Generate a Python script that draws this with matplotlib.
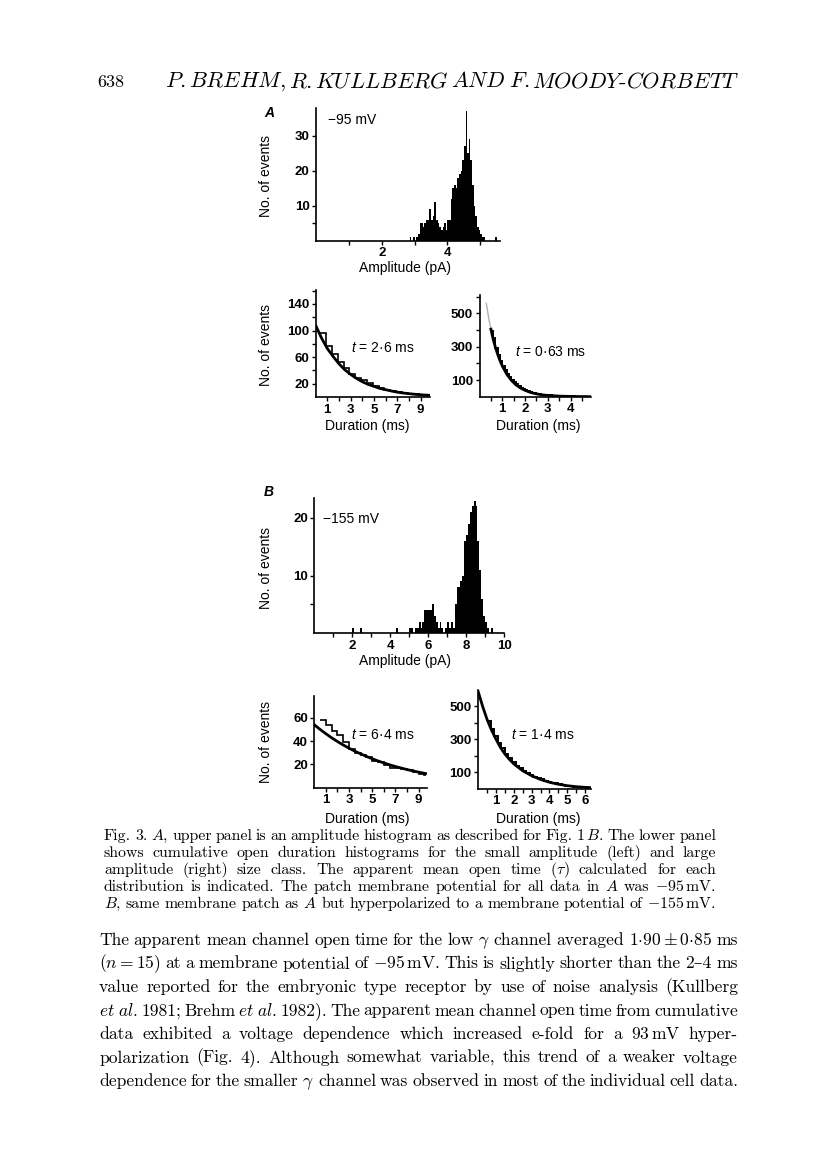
import numpy as np
import matplotlib
matplotlib.use("Agg")
import matplotlib.pyplot as plt

plt.rcParams["font.family"] = ["Liberation Sans", "DejaVu Sans"]
plt.rcParams["mathtext.fontset"] = "cm"
plt.rcParams["mathtext.it"] = "Liberation Sans:italic"
plt.rcParams["mathtext.rm"] = "Liberation Sans"
plt.rcParams["axes.unicode_minus"] = False

W, H = 816, 1175

# amplitude histogram A (-95 mV): bins of 0.05 pA starting at 2.80 pA
amp_a_start = 2.80
amp_a_width = 0.05
amp_a_counts = [0, 1, 0, 1, 0, 1, 2, 5, 5, 4, 5, 6, 6, 9, 6, 7, 11, 6, 5, 4,
                3, 4, 5, 3, 6, 6, 12, 15, 16, 15, 18, 19, 20, 23, 27, 37, 25, 29, 23, 16,
                10, 7, 4, 3, 2, 1, 1, 0, 0, 0, 0, 0, 0, 1]

# amplitude histogram B (-155 mV): 0.1 pA bins, left edges of non-empty bins
amp_b_width = 0.1
amp_b_left = [2.0, 2.4, 4.3, 5.0, 5.1, 5.3, 5.4, 5.5, 5.6, 5.7, 5.8, 5.9, 6.0, 6.1,
              6.2, 6.3, 6.4, 6.5, 6.6, 6.7, 6.9, 7.0, 7.1, 7.2, 7.3, 7.4, 7.5, 7.6,
              7.7, 7.8, 7.9, 8.0, 8.1, 8.2, 8.3, 8.4, 8.5, 8.6, 8.7, 8.8, 8.9, 9.0,
              9.1, 9.3]
amp_b_counts = [1, 1, 1, 1, 1, 1, 1, 2, 1, 2, 4, 4, 4, 4,
                5, 3, 2, 1, 2, 1, 1, 2, 1, 2, 1, 5, 8, 8,
                9, 10, 16, 17, 19, 21, 22, 23, 22, 16, 11, 6, 3, 2,
                1, 1]

# cumulative open-duration histograms (stairs) and fitted curves
dur_al_edges = [0.4, 0.9, 1.4, 1.9, 2.4, 2.9, 3.4, 3.9, 4.4, 4.9, 5.4, 5.9, 6.4,
                6.9, 7.4, 7.9, 8.4, 8.9, 9.4, 9.8]
dur_al_counts = [96, 76, 64, 52, 43, 35, 29, 25, 21, 16, 13, 11, 9, 7, 6, 5, 4, 3, 3]
fit_al_t = [0, 0.5, 1, 1.5, 2, 2.5, 3, 3.5, 4, 4.5, 5, 5.5, 6, 6.5, 7, 7.5, 8, 8.5, 9, 9.5, 9.8]
fit_al_n = [108, 89, 73, 61, 50, 41, 34, 28, 23, 19, 16, 13, 11, 9, 7.3, 6, 5, 4.1, 3.4, 2.8, 2.6]

dur_ar_edges = [0.5, 0.6, 0.7, 0.8, 0.9, 1.0, 1.1, 1.2, 1.3, 1.4, 1.5, 1.6, 1.7, 1.8,
                1.9, 2.0, 2.1, 2.2, 2.3, 2.4, 2.5, 2.6, 2.7, 2.8, 2.9, 3.0, 3.2, 3.4,
                3.6, 3.8, 4.0, 4.2, 4.4, 4.6, 4.85]
dur_ar_counts = [395, 350, 290, 250, 215, 185, 160, 138, 118, 102, 88, 75, 64, 55,
                 47, 40, 34, 29, 25, 21, 18, 15, 13, 11, 9, 8, 6, 4,
                 3, 2, 2, 1, 1, 1]
fit_ar_faint_t = [0.3, 0.4, 0.5]
fit_ar_faint_n = [560, 475, 405]
fit_ar_t = [0.5, 0.6, 0.7, 0.8, 0.9, 1.0, 1.2, 1.4, 1.6, 1.8, 2.0, 2.25, 2.5, 2.75,
            3.0, 3.5, 4.0, 4.5, 4.85]
fit_ar_n = [405, 345, 296, 253, 216, 184, 134, 98, 71, 52, 38, 25, 17, 11,
            8, 3.5, 1.6, 0.7, 0.4]

dur_bl_edges = [0.5, 1.0, 1.5, 2.0, 2.5, 3.0, 3.5, 4.0, 4.5, 5.0, 5.5, 6.0, 6.5,
                7.0, 7.5, 8.0, 8.5, 9.0, 9.5, 9.6]
dur_bl_counts = [58, 54, 49, 45, 39, 33, 30, 28, 26, 23, 22, 19, 17, 17, 16, 15, 13, 12, 11]
fit_bl_t = [0, 0.5, 1, 1.5, 2, 2.5, 3, 3.5, 4, 4.5, 5, 5.5, 6, 6.5, 7, 7.5, 8, 8.5, 9, 9.6]
fit_bl_n = [54, 50, 46.3, 42.8, 39.6, 36.6, 33.9, 31.3, 29, 26.8, 24.8, 22.9, 21.2,
            19.6, 18.1, 16.8, 15.5, 14.4, 13.3, 12.1]

dur_br_edges = [0.5, 0.7, 0.9, 1.1, 1.3, 1.5, 1.7, 1.9, 2.1, 2.3, 2.5, 2.7, 2.9, 3.1,
                3.3, 3.5, 3.7, 3.9, 4.1, 4.3, 4.5, 4.7, 4.9, 5.1, 5.3, 5.5, 5.7, 5.9,
                6.1, 6.3]
dur_br_counts = [410, 360, 320, 280, 245, 210, 185, 160, 140, 122, 107, 95, 83, 72,
                 63, 55, 48, 41, 36, 31, 26, 22, 18, 15, 12, 10, 8, 7, 6]
fit_br_t = [0, 0.25, 0.5, 0.75, 1.0, 1.25, 1.5, 1.75, 2.0, 2.5, 3.0, 3.5, 4.0, 4.5,
            5.0, 5.5, 6.0, 6.3]
fit_br_n = [590, 500, 420, 355, 300, 250, 210, 178, 150, 108, 78, 55, 38, 26,
            17, 11, 7, 5]

header_page = "638"
header_tokens = [r"$\mathit{P}$.", r"$\mathit{BREHM}$,", r"$\mathit{R}$.", r"$\mathit{KULLBERG}$",
                 r"$\mathit{AND}$", r"$\mathit{F}$.", r"$\mathit{MOODY}$-$\mathit{CORBETT}$"]

caption_lines = [
    r"Fig. 3. $\mathit{A}$, upper panel is an amplitude histogram as described for Fig. 1$\,\mathit{B}$. The lower panel",
    "shows cumulative open duration histograms for the small amplitude (left) and large",
    r"amplitude (right) size class. The apparent mean open time ($\tau$) calculated for each",
    r"distribution is indicated. The patch membrane potential for all data in $\mathit{A}$ was $-95\,$mV.",
    r"$\mathit{B}$, same membrane patch as $\mathit{A}$ but hyperpolarized to a membrane potential of $-155\,$mV.",
]

body_lines = [
    r"The apparent mean channel open time for the low $\gamma$ channel averaged $1{\cdot}90\pm0{\cdot}85$ ms",
    r"$(n=15)$ at a membrane potential of $-95\,$mV. This is slightly shorter than the 2–4 ms",
    "value reported for the embryonic type receptor by use of noise analysis (Kullberg",
    r"$\mathit{et}$ $\mathit{al}$. 1981; Brehm $\mathit{et}$ $\mathit{al}$. 1982). The apparent mean channel open time from cumulative",
    r"data exhibited a voltage dependence which increased e-fold for a 93$\,$mV hyper-",
    "polarization (Fig. 4). Although somewhat variable, this trend of a weaker voltage",
    r"dependence for the smaller $\gamma$ channel was observed in most of the individual cell data.",
]

SERIF = ["cmr10", "DejaVu Serif"]

fig = plt.figure(figsize=(W / 100, H / 100), dpi=100)
fig.patch.set_facecolor("white")


def fx(x):
    return x / W


def fy(y):
    return 1 - y / H


def make_axes(x0, x1, ybot, ytop):
    ax = fig.add_axes([fx(x0), fy(ybot), (x1 - x0) / W, (ybot - ytop) / H])
    ax.patch.set_alpha(0)
    for s in ["top", "right"]:
        ax.spines[s].set_visible(False)
    for s in ["left", "bottom"]:
        ax.spines[s].set_linewidth(1.2)
    ax.tick_params(which="both", direction="out", length=3.2, width=1.0, pad=1.5, labelsize=9.5)
    return ax


def set_ticks(ax, xt, xminor, yt, yminor):
    ax.set_xticks(xt, [f"{v:g}" for v in xt], fontweight="bold")
    ax.set_xticks(xminor, minor=True)
    ax.set_yticks(yt, [f"{v:g}" for v in yt], fontweight="bold")
    ax.set_yticks(yminor, minor=True)


def label(x, y, s, rot=0, **kw):
    fig.text(fx(x), fy(y), s, ha="center", va="center", rotation=rot, fontsize=10, **kw)


# ---- A: amplitude histogram ----
ax = make_axes(316, 500, 240.7, 108)
left_a = amp_a_start + amp_a_width * np.arange(len(amp_a_counts))
ax.bar(left_a, amp_a_counts, width=amp_a_width, align="edge", color="black", linewidth=0)
ax.set_xlim(0, 5.6)
ax.set_ylim(0, 38)
set_ticks(ax, [2, 4], [1, 3, 5], [10, 20, 30], [5])

# ---- A: duration, small amplitude ----
ax = make_axes(315.6, 430, 397, 290)
ax.stairs(dur_al_counts, dur_al_edges, baseline=None, color="black", linewidth=1.2)
ax.plot(fit_al_t, fit_al_n, color="black", linewidth=2.0, solid_capstyle="butt")
ax.set_xlim(0, 9.8)
ax.set_ylim(0, 161)
set_ticks(ax, [1, 3, 5, 7, 9], [2, 4, 6, 8], [20, 60, 100, 140], [40, 80, 120, 160])

# ---- A: duration, large amplitude ----
ax = make_axes(479.5, 590.7, 396.7, 295)
ax.plot(fit_ar_faint_t, fit_ar_faint_n, color="#b0b0b0", linewidth=1.0)
ax.stairs(dur_ar_counts, dur_ar_edges, baseline=None, color="black", linewidth=1.4)
ax.plot(fit_ar_t, fit_ar_n, color="black", linewidth=2.0)
ax.set_xlim(0, 4.88)
ax.set_ylim(0, 610)
set_ticks(ax, [1, 2, 3, 4], [0.5, 1.5, 2.5, 3.5, 4.5], [100, 300, 500], [200, 400, 600])

# ---- B: amplitude histogram ----
ax = make_axes(314.4, 504, 633.3, 498.3)
ax.bar(amp_b_left, amp_b_counts, width=amp_b_width, align="edge", color="black", linewidth=0)
ax.set_xlim(0, 10)
ax.set_ylim(0, 23.4)
set_ticks(ax, [2, 4, 6, 8, 10], [1, 3, 5, 7, 9], [10, 20], [5])

# ---- B: duration, small amplitude ----
ax = make_axes(314.3, 426.7, 787.6, 695.7)
ax.stairs(dur_bl_counts, dur_bl_edges, baseline=None, color="black", linewidth=1.2)
ax.plot(fit_bl_t, fit_bl_n, color="black", linewidth=2.0)
ax.set_xlim(0, 9.7)
ax.set_ylim(0, 79)
set_ticks(ax, [1, 3, 5, 7, 9], [2, 4, 6, 8], [20, 40, 60], [])

# ---- B: duration, large amplitude ----
ax = make_axes(478.2, 590.7, 788.5, 690)
ax.stairs(dur_br_counts, dur_br_edges, baseline=None, color="black", linewidth=1.4)
ax.plot(fit_br_t, fit_br_n, color="black", linewidth=2.0)
ax.set_xlim(0, 6.32)
ax.set_ylim(0, 600)
set_ticks(ax, [1, 2, 3, 4, 5, 6], [0.5, 1.5, 2.5, 3.5, 4.5, 5.5], [100, 300, 500], [200, 400])

# ---- panel text ----
label(269, 113, "A", style="italic", fontweight="bold")
label(269, 492, "B", style="italic", fontweight="bold")
label(266, 176, "No. of events", rot=90)
label(266, 345, "No. of events", rot=90)
label(266, 568, "No. of events", rot=90)
label(266, 742, "No. of events", rot=90)
label(405, 268, "Amplitude (pA)")
label(405, 661, "Amplitude (pA)")
label(367, 426, "Duration (ms)")
label(538, 426, "Duration (ms)")
label(367, 819, "Duration (ms)")
label(538, 819, "Duration (ms)")
fig.text(fx(328), fy(120), "\u221295 mV", fontsize=10, va="center")
fig.text(fx(323), fy(519), "\u2212155 mV", fontsize=10, va="center")
fig.text(fx(351), fy(348), r"$t$ = 2·6 ms", fontsize=10, va="center", math_fontfamily="custom")
fig.text(fx(515), fy(352), r"$t$ = 0·63 ms", fontsize=10, va="center", math_fontfamily="custom")
fig.text(fx(351), fy(735), r"$t$ = 6·4 ms", fontsize=10, va="center", math_fontfamily="custom")
fig.text(fx(511), fy(735), r"$t$ = 1·4 ms", fontsize=10, va="center", math_fontfamily="custom")

# ---- page text (justified lines) ----
renderer = fig.canvas.get_renderer()


def justify(tokens, x0, x1, y, size):
    ts = [fig.text(0, fy(y), t, fontsize=size, family=SERIF, va="baseline", ha="left")
          for t in tokens]
    ws = [t.get_window_extent(renderer=renderer).width for t in ts]
    gap = (x1 - x0 - sum(ws)) / max(len(ts) - 1, 1)
    x = x0
    for t, w in zip(ts, ws):
        t.set_x(fx(x))
        x += w + gap


fig.text(fx(97), fy(87), header_page, fontsize=13, family=SERIF, va="baseline")
justify(header_tokens, 165, 740, 87, 16)

for i, line in enumerate(caption_lines):
    justify(line.split(" "), 104, 716, 840 + 16.9 * i, 11.4)

for i, line in enumerate(body_lines):
    justify(line.split(" "), 99, 738, 945 + 23.5 * i, 12.6)

fig.savefig("out.png", dpi=100, facecolor="white")
